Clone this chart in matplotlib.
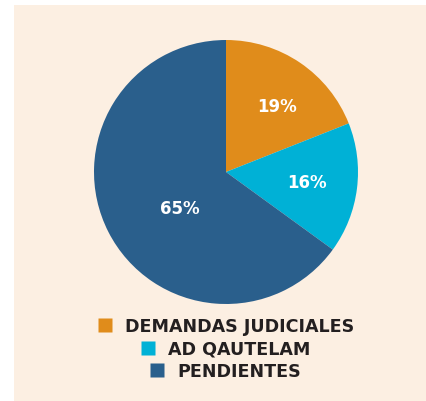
import matplotlib.pyplot as plt
from matplotlib.lines import Line2D
from matplotlib.patches import Rectangle

# data
labels = ['DEMANDAS JUDICIALES', 'AD QAUTELAM', 'PENDIENTES']
shares = [19, 16, 65]
colors = ['#E08C1B', '#00B1D6', '#2A5F8C']

BG = '#FCEFE2'
W, H = 427, 402

fig = plt.figure(figsize=(W / 100, H / 100), dpi=100)
fig.patch.set_facecolor('white')
fig.add_artist(Rectangle((14 / W, -0.05), 1.1, (H - 6) / H + 0.05,
                         transform=fig.transFigure, facecolor=BG,
                         edgecolor='none', zorder=0))

# pie axes: centre (226,173), radius 132 px
cx, cy, r = 226, 173, 132
ax = fig.add_axes([(cx - r) / W, (H - cy - r) / H, 2 * r / W, 2 * r / H])
ax.set_facecolor('none')
wedges, texts, autotexts = ax.pie(
    shares, colors=colors, startangle=90, counterclock=False,
    autopct='%d%%', pctdistance=0.62,
    textprops=dict(color='white', fontsize=12, fontweight='bold',
                   family='DejaVu Sans'))
autotexts[0].set_position((0.39, 0.5))
autotexts[2].set_position((-0.35, -0.27))
ax.set_xlim(-1, 1)
ax.set_ylim(-1, 1)
ax.set_aspect('equal')
ax.axis('off')

# legend: one centred row per entry
for i, (lab, col) in enumerate(zip(labels, colors)):
    h = Line2D([], [], marker='s', linestyle='none', markersize=9.5,
               markerfacecolor=col, markeredgecolor='none')
    leg = fig.legend([h], [lab], loc='center',
                     bbox_to_anchor=(225 / W, 1 - (327.5 + i * 22.5) / H),
                     frameon=False, handletextpad=0.65, handlelength=1.0,
                     borderpad=0, prop=dict(size=12.6, weight='bold',
                                            family='DejaVu Sans'))
    for t in leg.get_texts():
        t.set_color('#231F20')

fig.savefig('out.png', dpi=100, facecolor='white')
